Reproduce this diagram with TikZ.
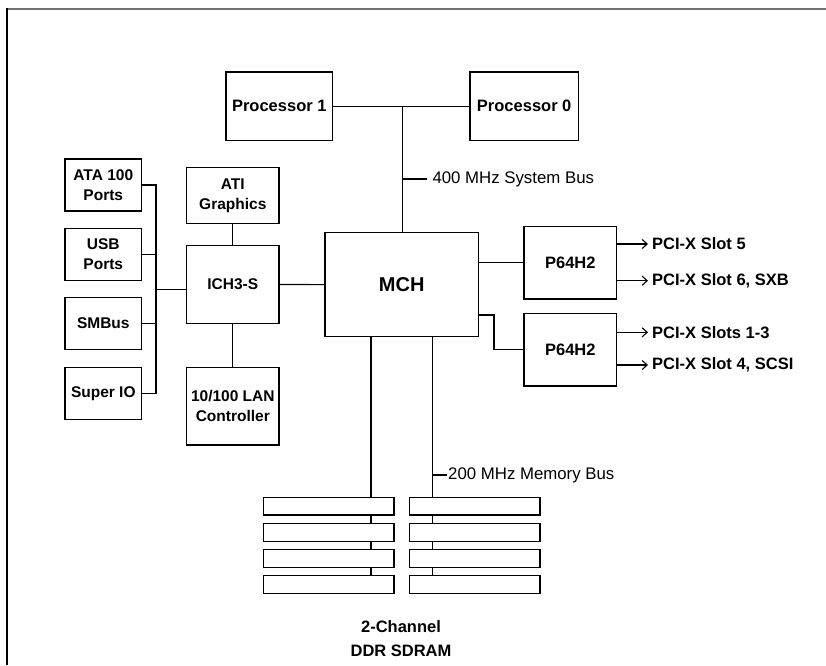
\documentclass[tikz,border=0pt]{standalone}
\usepackage{fontspec}
\setmainfont{Liberation Sans}
\usetikzlibrary{arrows.meta}
\tikzstyle{block}=[draw, line width=1.2pt, inner sep=0pt, align=center, font=\bfseries\fontsize{16.5}{20}\selectfont]
\tikzstyle{port}=[block, minimum width=76.7pt, minimum height=52pt, font=\bfseries\fontsize{15.5}{20}\selectfont]
\tikzstyle{chip}=[block, minimum width=92.3pt, font=\bfseries\fontsize{15.5}{20}\selectfont]
\tikzstyle{bridge}=[block, minimum width=92.7pt, minimum height=72.4pt]
\tikzstyle{dimm}=[draw, fill=white, line width=1.2pt, minimum width=130.7pt, minimum height=17.7pt, inner sep=0pt]
\tikzstyle{wire}=[line width=1.2pt]
\tikzstyle{slot}=[anchor=west, inner sep=0pt, font=\bfseries\fontsize{16.5}{20}\selectfont]
\tikzstyle{buslabel}=[anchor=west, inner sep=0pt, font=\fontsize{16.8}{20}\selectfont]

\begin{document}
\begin{tikzpicture}[x=1pt, y=-1pt, >={Straight Barb[length=5pt, width=9pt, line width=1.1pt]}]
\useasboundingbox (0,0) rectangle (826,665);
% frame
\draw[line width=2.2pt, black!55] (6.5,9) -- (826,9);
\draw[line width=1.3pt] (7,8) -- (7,665);

% processors and bus
\node[block, minimum width=106.7pt, minimum height=68.7pt] at (279.3, 106.3) (proc1) {Processor 1};
\node[block, minimum width=108.3pt, minimum height=68.7pt] at (524.2, 106.3) (proc0) {Processor 0};
\node[block, minimum width=153.5pt, minimum height=104pt, font=\bfseries\fontsize{20}{24}\selectfont] at (401.7, 284.7) (mch) {MCH};
\coordinate (sysbus) at (402.3, 106.3);
\draw[wire] (proc1) -- (proc0);
\draw[wire] (sysbus) -- (sysbus |- mch.north);
\draw[wire] (402.3, 179) -- (427, 179);
\node[buslabel] at (432.3, 179) (sysbuslabel) {400 MHz System Bus};

% south bridge side
\node[chip, minimum height=56pt] at (232.8, 195.3) (ati) {ATI\\Graphics};
\node[chip, minimum height=77.6pt] at (232.8, 284.5) (ich) {ICH3-S};
\node[chip, minimum height=77.7pt] at (232.8, 406.2) (lan) {10/100 LAN\\Controller};
\draw[wire] (ich) -- (mch);
\draw[wire] (ich) -- (ati);
\draw[wire] (ich) -- (lan);

\node[port] at (103.3, 185) (ata) {ATA 100\\Ports};
\node[port] at (103.3, 254.2) (usb) {USB\\Ports};
\node[port] at (103.3, 323.5) (smbus) {SMBus};
\node[port] at (103.3, 393.3) (superio) {Super IO};
\coordinate (iobus) at (156, 289.3);
\draw[wire] (ata.east) -| (iobus |- superio.east) -- (superio.east);
\draw[wire] (usb.east) -- (usb.east -| iobus);
\draw[wire] (smbus.east) -- (smbus.east -| iobus);
\draw[wire] (iobus) -- (iobus -| ich.west);

% PCI-X bridges
\node[bridge] at (570.3, 262.8) (p64a) {P64H2};
\node[bridge] at (570.3, 349.8) (p64b) {P64H2};
\draw[wire] (p64a.west) -- (p64a.west -| mch.east);
\coordinate (jog) at (494, 315);
\draw[wire] (jog -| mch.east) -- (jog) |- (p64b.west);

\coordinate (tip) at (648, 0);
\foreach \name/\y/\txt in {s5/244/{PCI-X Slot 5}, s6/280.7/{PCI-X Slot 6, SXB}, s13/332.3/{PCI-X Slots 1-3}, s4/365/{PCI-X Slot 4, SCSI}}
{
  \node[slot] at (652, \y) (\name) {\txt};
  \draw[wire, ->] (\name.west -| p64a.east) -- (\name.west -| tip);
}

% memory
\coordinate (bl) at (371, 0);
\coordinate (br) at (432.7, 0);
\foreach \i/\y in {1/506.2, 2/532.4, 3/558.5, 4/584.7}
{
  \node[dimm] at (328.7, \y) (dl\i) {};
  \node[dimm] at (474.7, \y) (dr\i) {};
}
\draw[wire] (bl |- mch.south) -- (bl |- dl1.north);
\draw[wire] (br |- mch.south) -- (br |- dr1.north);
\foreach \i/\j in {1/2, 2/3, 3/4}
{
  \draw[wire] (bl |- dl\i.south) -- (bl |- dl\j.north);
  \draw[wire] (br |- dr\i.south) -- (br |- dr\j.north);
}
\draw[wire] (432.7, 475) -- (447, 475);
\node[buslabel] at (448, 475) (membuslabel) {200 MHz Memory Bus};
\node[align=center, font=\bfseries\fontsize{16.5}{24}\selectfont] at (401, 639) (ddr) {2-Channel\\DDR SDRAM};
\end{tikzpicture}
\end{document}
